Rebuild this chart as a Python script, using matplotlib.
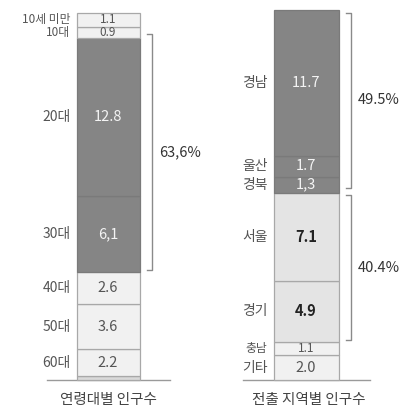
import matplotlib
matplotlib.use("Agg")
import matplotlib.pyplot as plt
import numpy as np

plt.rcParams["font.family"] = ["Noto Sans CJK KR", "DejaVu Sans"]

# left bar: population by age group (bottom -> top)
age_labels = ["", "60대", "50대", "40대", "30대", "20대", "10대", "10세 미만"]
age_values = [0.3, 2.2, 3.6, 2.6, 6.1, 12.8, 0.9, 1.1]
age_texts = ["", "2.2", "3.6", "2.6", "6,1", "12.8", "0.9", "1.1"]
age_dark = [False, False, False, False, True, True, False, False]

# right bar: out-migration by region (bottom -> top)
reg_labels = ["기타", "충남", "경기", "서울", "경북", "울산", "경남"]
reg_values = [2.0, 1.1, 4.9, 7.1, 1.3, 1.7, 11.7]
reg_texts = ["2.0", "1.1", "4.9", "7.1", "1,3", "1.7", "11.7"]
reg_shade = ["light", "light", "mid", "mid", "dark", "dark", "dark"]

titles = ["연령대별 인구수", "전출 지역별 인구수"]
bracket_texts = ["63,6%", "49.5%", "40.4%"]

DARK = "#858585"
LIGHT = "#f1f1f1"
MID = "#e4e4e4"
SLIVER = "#d9d9d9"
EDGE = "#a8a8a8"

fig = plt.figure(figsize=(4.05, 4.11), dpi=100)
ax = fig.add_axes([0, 0, 1, 1])
ax.set_xlim(0, 405)
ax.set_ylim(-31 / 12.4, 380 / 12.4)
ax.set_axis_off()


def draw_stack(xc, width, values, texts, labels, colors, text_colors, weights):
    bottoms = np.concatenate([[0], np.cumsum(values)[:-1]])
    for b, v, t, lab, c, tc, w in zip(bottoms, values, texts, labels, colors,
                                      text_colors, weights):
        ec = "#7a7a7a" if c == DARK else EDGE
        ax.bar(xc, v, width=width, bottom=b, color=c, edgecolor=ec,
               linewidth=0.9, zorder=2)
        mid = b + v / 2
        small = v < 1.2
        if t:
            ax.text(xc, mid, t, ha="center", va="center",
                    fontsize=8.5 if small else 10.5,
                    color=tc, fontweight=w, zorder=3)
        if lab:
            ax.text(xc - width / 2 - 6, mid, lab, ha="right", va="center",
                    fontsize=8.5 if small else 10, color="#555555")
    return bottoms


def bracket(x, y0, y1, text):
    tick = 5
    ax.plot([x - tick, x, x, x - tick], [y1, y1, y0, y0],
            color="#8a8a8a", lw=1.0, zorder=1)
    ax.text(x + 7, (y0 + y1) / 2, text, ha="left", va="center",
            fontsize=10.5, color="#333333")


# left stack
age_colors = []
for i, d in enumerate(age_dark):
    if d:
        age_colors.append(DARK)
    elif i == 0:
        age_colors.append(SLIVER)
    else:
        age_colors.append(LIGHT)
age_tc = ["#f4f4f4" if d else "#555555" for d in age_dark]
age_w = ["normal"] * len(age_values)
ab = draw_stack(108, 63, age_values, age_texts, age_labels, age_colors,
                age_tc, age_w)

# right stack
shade_map = {"dark": DARK, "mid": MID, "light": LIGHT}
reg_colors = [shade_map[s] for s in reg_shade]
reg_tc = {"dark": "#f4f4f4", "mid": "#222222", "light": "#555555"}
reg_tcs = [reg_tc[s] for s in reg_shade]
reg_w = ["bold" if s == "mid" else "normal" for s in reg_shade]
rb = draw_stack(306, 65, reg_values, reg_texts, reg_labels, reg_colors,
                reg_tcs, reg_w)

# baselines
ax.plot([47, 170], [0, 0], color="#9a9a9a", lw=1.0, zorder=1)
ax.plot([243, 370], [0, 0], color="#9a9a9a", lw=1.0, zorder=1)

# brackets
bracket(152, ab[4] + 0.15, ab[5] + age_values[5] + 0.3, bracket_texts[0])
reg_top = rb[-1] + reg_values[-1]
bracket(351, rb[4] + 0.4, reg_top - 0.2, bracket_texts[1])
bracket(351, rb[2] + 0.1, rb[3] + reg_values[3] - 0.2, bracket_texts[2])

# titles
ax.text(108, -20 / 12.4, titles[0], ha="center", va="center",
        fontsize=10.5, color="#444444")
ax.text(309, -20 / 12.4, titles[1], ha="center", va="center",
        fontsize=10.5, color="#444444")

fig.savefig("out.png", dpi=100)
